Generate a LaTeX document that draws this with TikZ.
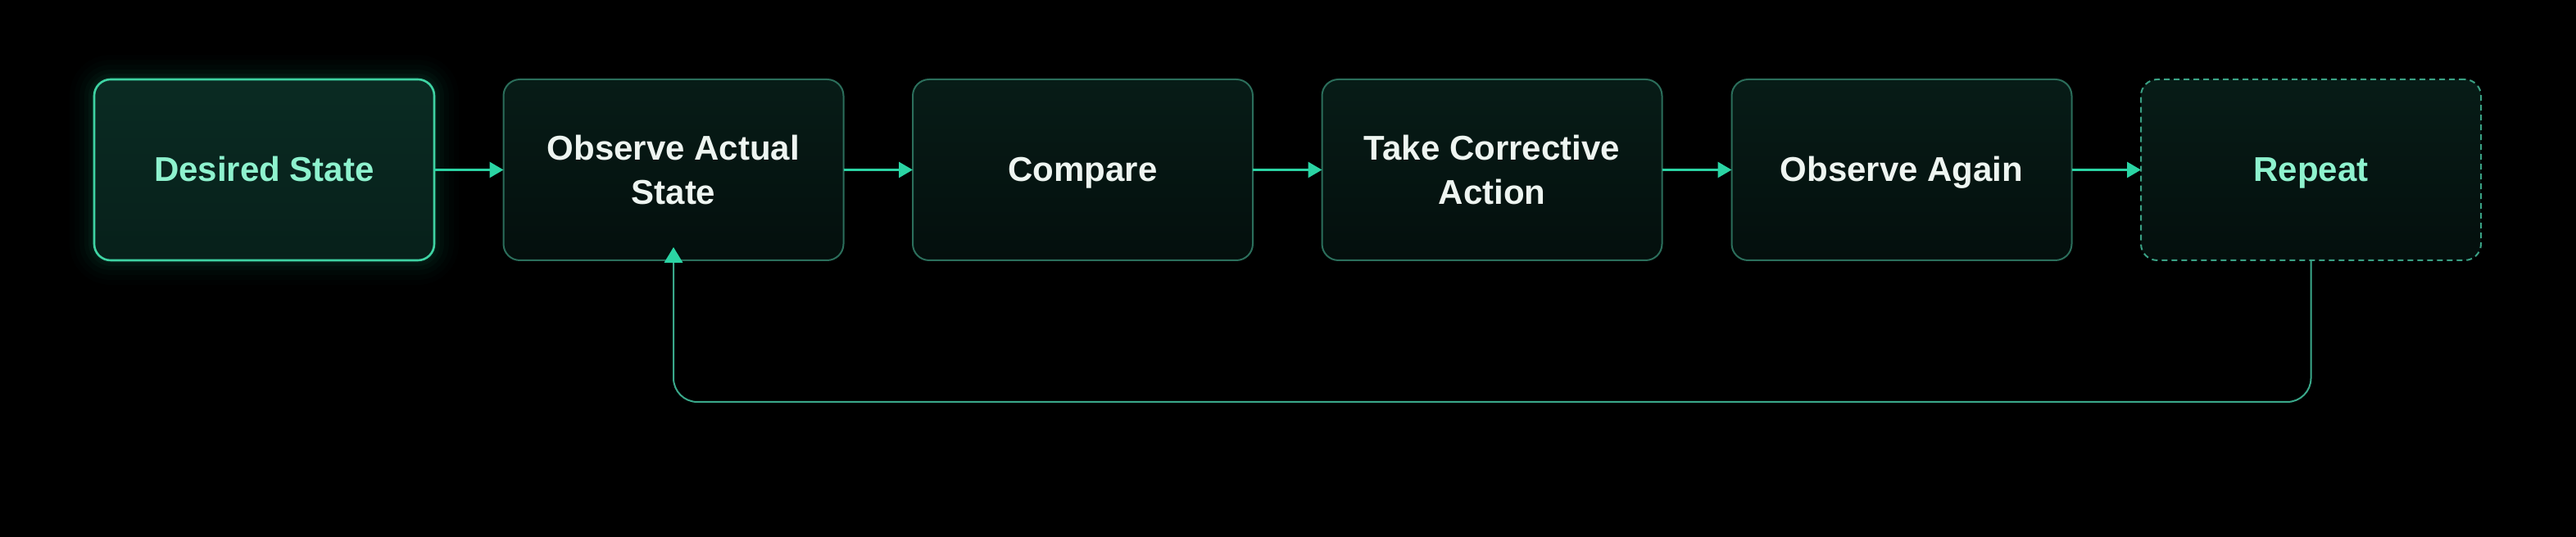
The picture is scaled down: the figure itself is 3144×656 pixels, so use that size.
\documentclass[tikz,border=0pt]{standalone}
\usepackage{fontspec}
\setmainfont{Liberation Sans}
\usetikzlibrary{arrows.meta,backgrounds,positioning}
\definecolor{bgc}{HTML}{000000}
\definecolor{arrowc}{HTML}{2BD4A4}
\definecolor{fbc}{HTML}{3AA88A}
\definecolor{bordn}{HTML}{2B6E5B}
\definecolor{bordd}{HTML}{3FD3A3}
\definecolor{bordr}{HTML}{3AA084}
\definecolor{textw}{HTML}{EEF5F1}
\definecolor{textm}{HTML}{8EF2CE}
\definecolor{filltop}{HTML}{071C17}
\definecolor{fillbot}{HTML}{040F0D}
\definecolor{filldtop}{HTML}{0A2B23}
\definecolor{filldbot}{HTML}{07201A}
\definecolor{glowc}{HTML}{1FB889}
\tikzset{
  stepbox/.style={draw=bordn, line width=1pt, rounded corners=10pt,
    minimum width=207.5pt, minimum height=110.5pt, inner sep=0pt, outer sep=0pt,
    top color=filltop, bottom color=fillbot, align=center,
    text=textw, font=\bfseries\fontsize{21}{26.8}\selectfont},
  oneline/.style={text height=18.9pt, text depth=4.4pt},
  desiredbox/.style={stepbox, draw=bordd, line width=1.3pt,
    top color=filldtop, bottom color=filldbot, text=textm},
  repeatbox/.style={stepbox, draw=bordr, dash pattern=on 3.5pt off 2.5pt, text=textm},
  flowarrow/.style={draw=arrowc, line width=1.5pt, -{Triangle[length=8.5pt,width=9.5pt]}},
  fbarrow/.style={draw=fbc, line width=1pt, rounded corners=14.5pt},
}
\begin{document}
\begin{tikzpicture}[x=0.5pt,y=-0.5pt]
\useasboundingbox (0,0) rectangle (3144,656);
\node[desiredbox, oneline] (d) at (322.5,207.5) {Desired State};
\node[stepbox] (o) at (822,207.5) {Observe Actual\\State};
\node[stepbox, oneline] (c) at (1321.5,207.5) {Compare};
\node[stepbox] (t) at (1821,207.5) {Take Corrective\\Action};
\node[stepbox, oneline] (a) at (2321,207.5) {Observe Again};
\node[repeatbox, oneline] (r) at (2820.5,207.5) {Repeat};
\begin{pgfonlayer}{background}
  \fill[bgc] (0,0) rectangle (3144,656);
  \foreach \w/\op in {30/0.015,24/0.02,18/0.025,12/0.035,7/0.045,3/0.06}{
    \draw[glowc, line width=\w pt, opacity=\op, rounded corners=10pt]
      (d.south west) rectangle (d.north east);
  }
\end{pgfonlayer}
\draw[flowarrow] (d.east) -- (o.west);
\draw[flowarrow] (o.east) -- (c.west);
\draw[flowarrow] (c.east) -- (t.west);
\draw[flowarrow] (t.east) -- (a.west);
\draw[flowarrow] (a.east) -- (r.west);
\coordinate (fb1) at (r.south |- 0,491);
\coordinate (fb2) at (o.south |- 0,491);
\draw[fbarrow] (r.south) -- (fb1) -- (fb2) -- (o.south);
\fill[arrowc] ([yshift=8pt]o.south) -- ([xshift=-5.75pt,yshift=-1.5pt]o.south) -- ([xshift=5.75pt,yshift=-1.5pt]o.south) -- cycle;
\end{tikzpicture}
\end{document}
